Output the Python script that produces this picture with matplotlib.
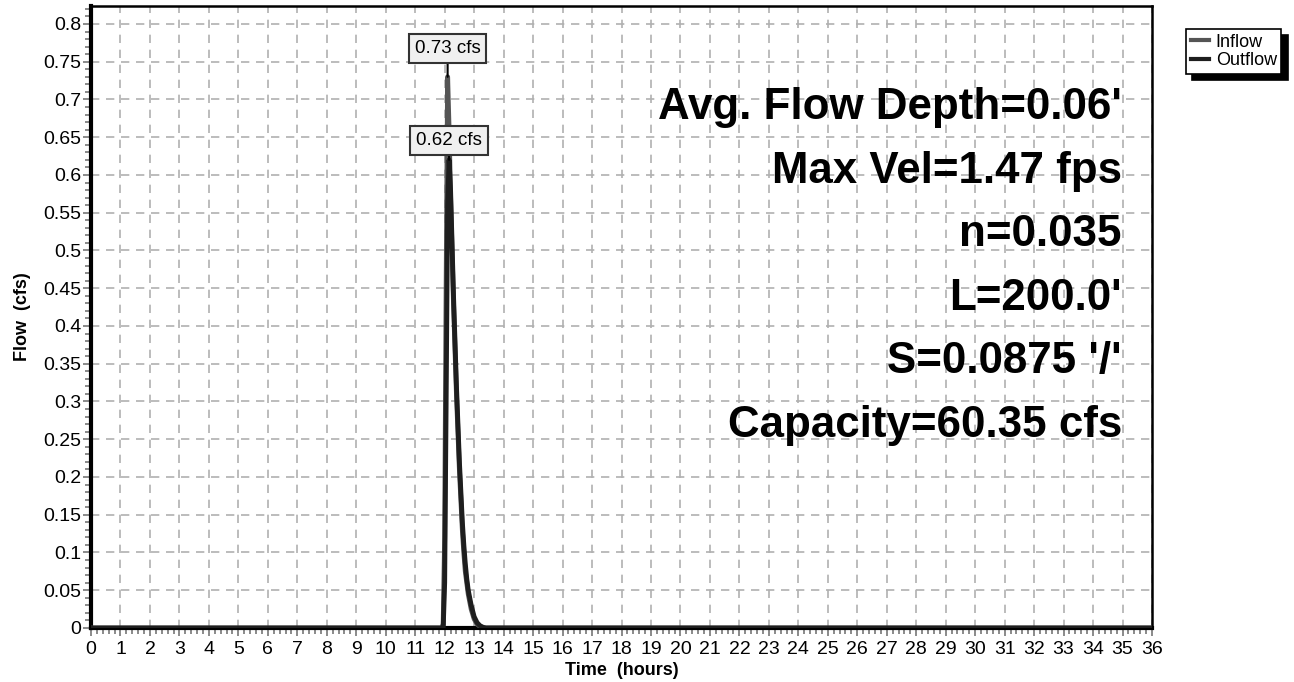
import numpy as np
import matplotlib.pyplot as plt
from matplotlib.ticker import MultipleLocator

plt.rcParams['font.family'] = ['Liberation Sans', 'DejaVu Sans']

# hydrograph data (hours, cfs)
inflow_t = [0, 11.9, 11.95, 12.0, 12.05, 12.1, 12.15, 12.2, 12.25, 12.3, 12.35, 12.4,
            12.45, 12.5, 12.55, 12.6, 12.65, 12.7, 12.8, 12.9, 13.0, 13.1, 13.2, 13.3, 36]
inflow_q = [0, 0, 0.005, 0.12, 0.45, 0.73, 0.66, 0.57, 0.50, 0.43, 0.37, 0.31,
            0.26, 0.21, 0.17, 0.13, 0.10, 0.075, 0.045, 0.025, 0.012, 0.005, 0.002, 0, 0]

outflow_t = [0, 11.95, 12.0, 12.05, 12.1, 12.15, 12.2, 12.25, 12.3, 12.35, 12.4, 12.45,
             12.5, 12.55, 12.6, 12.65, 12.7, 12.75, 12.8, 12.9, 13.0, 13.1, 13.2, 13.3, 13.4, 36]
outflow_q = [0, 0, 0.06, 0.30, 0.56, 0.62, 0.58, 0.51, 0.44, 0.38, 0.32, 0.27,
             0.22, 0.18, 0.14, 0.11, 0.085, 0.065, 0.05, 0.03, 0.015, 0.007, 0.003, 0.001, 0, 0]

peak_in = 0.73
peak_out = 0.62

info = ["Avg. Flow Depth=0.06'", "Max Vel=1.47 fps", "n=0.035", "L=200.0'",
        "S=0.0875 '/'", "Capacity=60.35 cfs"]

fig = plt.figure(figsize=(12.94, 6.82), dpi=100)
ax = fig.add_axes([91 / 1294, 1 - 628 / 682, (1152 - 91) / 1294, (628 - 6) / 682])

ax.plot(inflow_t, inflow_q, color='#555555', lw=3.5, solid_joinstyle='round', zorder=3)
ax.plot(outflow_t, outflow_q, color='#1e1e1e', lw=3.5, solid_joinstyle='round', zorder=4)

ax.set_xlim(0, 36)
ax.set_ylim(0, 0.8238)
ax.xaxis.set_major_locator(MultipleLocator(1))
ax.xaxis.set_minor_locator(MultipleLocator(0.2))
ax.yaxis.set_major_locator(MultipleLocator(0.05))
ax.yaxis.set_minor_locator(MultipleLocator(0.01))
ax.yaxis.set_major_formatter(plt.FuncFormatter(lambda v, p: f"{v:.2f}".rstrip('0').rstrip('.') if v else "0"))

ax.tick_params(which='both', direction='out', color='#777777', labelsize=14)
ax.tick_params(which='major', length=6, width=1.2)
ax.tick_params(which='minor', length=4, width=1.2)
ax.tick_params(axis='x', pad=3)
ax.tick_params(axis='y', pad=1)

ax.grid(True, which='major', color='#b0b0b0', linestyle=(0, (5, 4)), lw=1.2)
for side in ['left', 'bottom']:
    ax.spines[side].set_linewidth(3)
for side in ['top', 'right']:
    ax.spines[side].set_linewidth(1.8)

ax.set_xlabel("Time  (hours)", fontweight='bold', fontsize=13, labelpad=3)
ax.set_ylabel("Flow  (cfs)", fontweight='bold', fontsize=13, labelpad=9)

# peak labels
box = dict(boxstyle='square,pad=0.32', fc='#f0f0f0', ec='#333333', lw=1.5)
ax.annotate(f"{peak_in:.2f} cfs", xy=(12.1, peak_in), xytext=(12.1, 0.767),
            ha='center', va='center', fontsize=13.5, bbox=box,
            arrowprops=dict(arrowstyle='-', color='black', lw=1.5, shrinkA=0, shrinkB=0), zorder=6)
ax.annotate(f"{peak_out:.2f} cfs", xy=(12.15, peak_out), xytext=(12.15, 0.646),
            ha='center', va='center', fontsize=13.5, bbox=box,
            arrowprops=dict(arrowstyle='-', color='black', lw=1.5, shrinkA=0, shrinkB=0), zorder=6)

for i, s in enumerate(info):
    ax.text(1122 / 1294, 1 - (108 + 63.5 * i) / 682, s, transform=fig.transFigure,
            ha='right', va='center', fontsize=31.6, fontweight='bold', zorder=7)

leg = fig.legend([plt.Line2D([], [], color='#555555', lw=3),
                  plt.Line2D([], [], color='#1e1e1e', lw=3)],
                 ["Inflow", "Outflow"], loc='upper left',
                 bbox_to_anchor=(1186 / 1294, 1 - 29 / 682), fontsize=13,
                 handlelength=1.0, handletextpad=0.4, borderpad=0.25, labelspacing=0.1,
                 fancybox=False, shadow={'color': 'black', 'alpha': 1, 'ox': 4.5, 'oy': -4.5},
                 framealpha=1, edgecolor='black', borderaxespad=0)
leg.get_frame().set_linewidth(1.2)

fig.savefig("out.png", dpi=100)
